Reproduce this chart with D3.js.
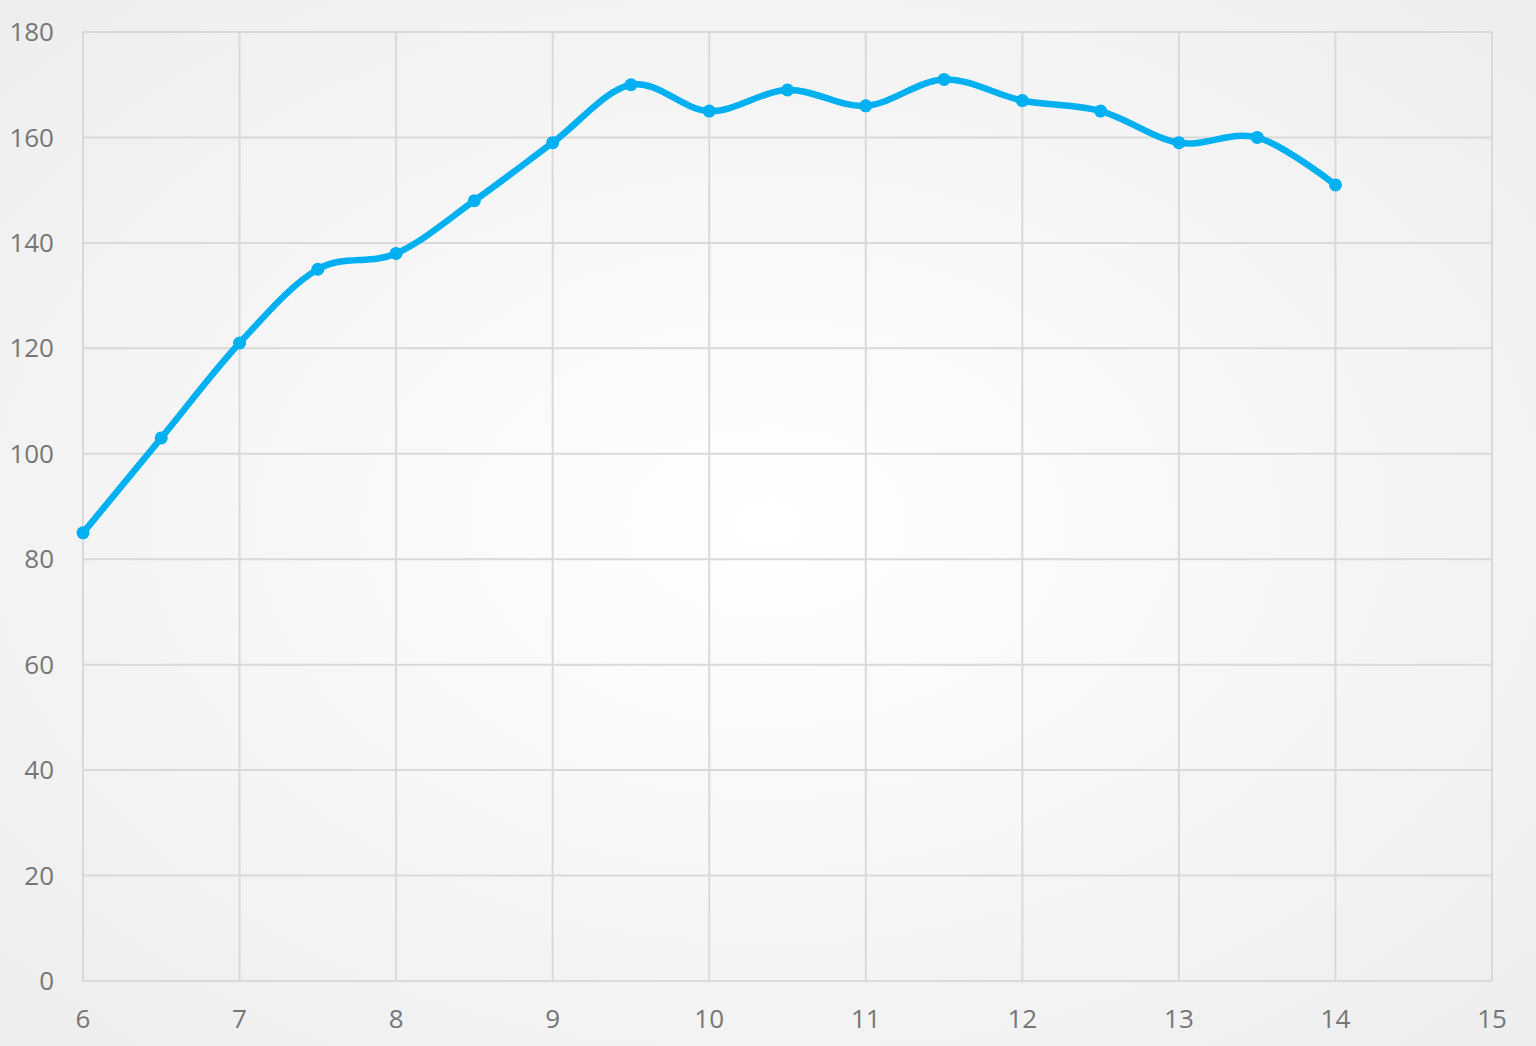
<!DOCTYPE html>
<html><head><meta charset="utf-8">
<script src="https://cdn.jsdelivr.net/npm/d3@7"></script>
<style>html,body{margin:0;padding:0;overflow:hidden;}</style>
</head><body>
<svg id="c" width="1536" height="1046"></svg>
<script>
const xValues = [6, 6.5, 7, 7.5, 8, 8.5, 9, 9.5, 10, 10.5, 11, 11.5, 12, 12.5, 13, 13.5, 14];
const yValues = [85, 103, 121, 135, 138, 148, 159, 170, 165, 169, 166, 171, 167, 165, 159, 160, 151];
const xTicks = [6, 7, 8, 9, 10, 11, 12, 13, 14, 15];
const yTicks = [0, 20, 40, 60, 80, 100, 120, 140, 160, 180];

const svg = d3.select("#c");
const W = 1536, H = 1046;
const defs = svg.append("defs");
const g = defs.append("radialGradient").attr("id","bg").attr("cx","50%").attr("cy","50%").attr("r","75%");
g.append("stop").attr("offset","0%").attr("stop-color","#ffffff");
g.append("stop").attr("offset","100%").attr("stop-color","#ececec");
svg.append("rect").attr("width",W).attr("height",H).attr("fill","url(#bg)");

const x = d3.scaleLinear().domain([6,15]).range([83,1492]);
const y = d3.scaleLinear().domain([0,180]).range([981,32]);
const grid = "#d9d9d9";

svg.append("g").selectAll("line").data(yTicks).join("line")
  .attr("x1",x(6)).attr("x2",x(15)).attr("y1",d=>y(d)).attr("y2",d=>y(d))
  .attr("stroke",grid).attr("stroke-width",2);
svg.append("g").selectAll("line").data(xTicks).join("line")
  .attr("y1",y(0)).attr("y2",y(180)).attr("x1",d=>x(d)).attr("x2",d=>x(d))
  .attr("stroke",grid).attr("stroke-width",2);

const font = "'Open Sans', 'Liberation Sans', sans-serif";
svg.append("g").selectAll("text").data(yTicks).join("text")
  .attr("x",54).attr("y",d=>y(d)).attr("dy","0.35em").attr("text-anchor","end")
  .attr("font-family",font).attr("font-size",26).attr("fill","#767676").text(d=>d);
svg.append("g").selectAll("text").data(xTicks).join("text")
  .attr("x",d=>x(d)).attr("y",1019).attr("dy","0.35em").attr("text-anchor","middle")
  .attr("font-family",font).attr("font-size",26).attr("fill","#767676").text(d=>d);

const pts = xValues.map((v,i)=>[v,yValues[i]]);
const line = d3.line().x(d=>x(d[0])).y(d=>y(d[1])).curve(d3.curveCardinal.tension(0));
svg.append("path").datum(pts).attr("d",line).attr("fill","none")
  .attr("stroke","#00b0f0").attr("stroke-width",6.5).attr("stroke-linejoin","round").attr("stroke-linecap","round");
svg.append("g").selectAll("circle").data(pts).join("circle")
  .attr("cx",d=>x(d[0])).attr("cy",d=>y(d[1])).attr("r",6.5).attr("fill","#00b0f0");
</script>
</body></html>
